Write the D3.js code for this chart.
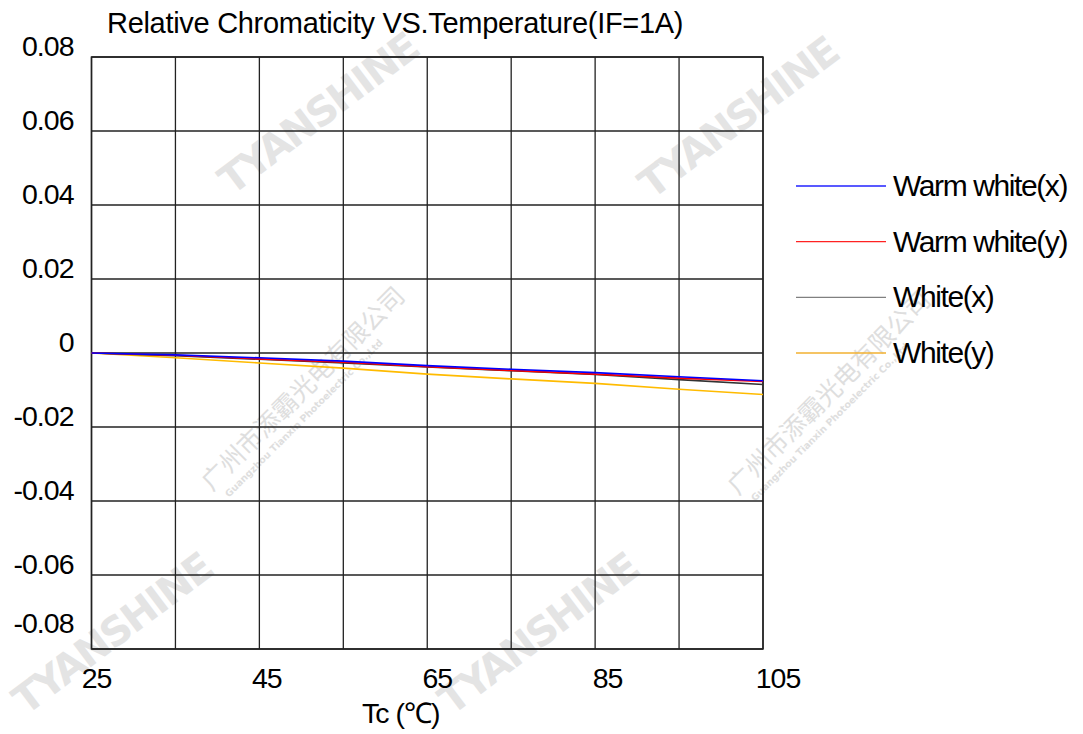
<!DOCTYPE html>
<html>
<head>
<meta charset="utf-8">
<script src="https://cdn.jsdelivr.net/npm/d3@7"></script>
<style>
  html, body { margin: 0; padding: 0; background: #fff; }
  svg { display: block; font-family: "Liberation Sans", Arial, sans-serif; }
</style>
</head>
<body>
<svg id="chart"></svg>
<script>
// chart data
const temps = [25, 35, 45, 55, 65, 75, 85, 95, 105];
const warmWhiteX = [0, -0.0005, -0.0013, -0.0022, -0.0034, -0.0044, -0.0053, -0.0064, -0.0075];
const warmWhiteY = [0, -0.0006, -0.0016, -0.0025, -0.0037, -0.0047, -0.0057, -0.0068, -0.0077];
const whiteX = [0, -0.0007, -0.0017, -0.0027, -0.0038, -0.0048, -0.0058, -0.0072, -0.0085];
const whiteY = [0, -0.0013, -0.0027, -0.0041, -0.0057, -0.0070, -0.0082, -0.0098, -0.0112];
const xTickLabels = [25, 45, 65, 85, 105];
const yTicks = [0.08, 0.06, 0.04, 0.02, 0, -0.02, -0.04, -0.06, -0.08];
const seriesNames = ["Warm white(x)", "Warm white(y)", "White(x)", "White(y)"];
const seriesValues = [warmWhiteX, warmWhiteY, whiteX, whiteY];

const totalW = 1083, totalH = 734;
const margin = { top: 57, right: 320, bottom: 85, left: 91.5 };
const width = totalW - margin.left - margin.right;
const height = totalH - margin.top - margin.bottom;

const colors = ["#0000ff", "#ff0000", "#333333", "#ffbb00"];
const legendColors = ["#2222ff", "#ff2222", "#808080", "#f2b030"];

const root = d3.select("#chart").attr("width", totalW).attr("height", totalH);

// faint watermarks behind everything
const wm = root.append("g").attr("fill", "#e4e4e4").attr("font-weight", "bold");
[[232, 196], [652, 200], [26, 716], [452, 716]].forEach(function (p) {
  wm.append("text")
    .attr("transform", "translate(" + p[0] + "," + p[1] + ") rotate(-37)")
    .attr("font-size", 40)
    .attr("font-family", "'DejaVu Sans', sans-serif")
    .attr("letter-spacing", -2)
    .text("TYANSHINE");
});
[[212, 492], [738, 496]].forEach(function (p) {
  const g = wm.append("g").attr("transform", "translate(" + p[0] + "," + p[1] + ") rotate(-45)");
  g.append("text")
    .attr("font-size", 25)
    .attr("font-weight", "normal")
    .attr("font-family", "'Noto Sans CJK SC', sans-serif")
    .attr("fill", "#dedede")
    .text("广州市添霸光电有限公司");
  g.append("text")
    .attr("y", 16)
    .attr("x", 8)
    .attr("font-size", 9.5)
    .attr("font-family", "'DejaVu Sans', sans-serif")
    .attr("fill", "#dedede")
    .text("Guangzhou Tianxin Photoelectric Co.,Ltd");
});

const svg = root.append("g")
  .attr("transform", "translate(" + margin.left + "," + margin.top + ")");

const x = d3.scaleLinear().domain([25, 105]).range([0, width]);
const y = d3.scaleLinear().domain([-0.08, 0.08]).range([height, 0]);

// grid
svg.append("g")
  .selectAll("line")
  .data(d3.range(25, 106, 10))
  .enter()
  .append("line")
  .attr("x1", (d) => x(d)).attr("x2", (d) => x(d))
  .attr("y1", 0).attr("y2", height)
  .attr("stroke", "#222").attr("stroke-width", 1.3);

svg.append("g")
  .selectAll("line")
  .data(yTicks)
  .enter()
  .append("line")
  .attr("x1", 0).attr("x2", width)
  .attr("y1", (d) => y(d)).attr("y2", (d) => y(d))
  .attr("stroke", "#222").attr("stroke-width", 1.3);

svg.append("rect")
  .attr("width", width).attr("height", height)
  .attr("fill", "none").attr("stroke", "#222").attr("stroke-width", 1.5);

// tick labels
svg.append("g")
  .selectAll("text")
  .data(yTicks)
  .enter()
  .append("text")
  .attr("x", -18)
  .attr("y", (d) => Math.min(y(d) - 1, height - 16))
  .attr("text-anchor", "end")
  .attr("font-size", 28.5)
  .attr("letter-spacing", -1)
  .text((d) => (d === 0 ? "0" : d3.format(".2f")(d).replace("−", "-")));

svg.append("g")
  .selectAll("text")
  .data(xTickLabels)
  .enter()
  .append("text")
  .attr("x", (d) => x(d) + 5 + (d - 25) / 8)
  .attr("y", height + 39)
  .attr("text-anchor", "middle")
  .attr("font-size", 28.5)
  .attr("letter-spacing", -1)
  .text((d) => d);

// title and axis title
root.append("text")
  .attr("x", 107).attr("y", 33)
  .attr("font-size", 29)
  .attr("letter-spacing", -0.3)
  .text("Relative Chromaticity VS.Temperature(IF=1A)");

root.append("text")
  .attr("x", 362).attr("y", 723)
  .attr("font-size", 28.5)
  .attr("letter-spacing", -1)
  .text("Tc (℃)");

// series lines
const line = d3.line()
  .x((d, i) => x(temps[i]))
  .y((d) => y(d));

// draw in reverse so blue ends on top
seriesValues.slice().reverse().forEach(function (vals, k) {
  const i = seriesValues.length - 1 - k;
  svg.append("path")
    .datum(vals)
    .attr("fill", "none")
    .attr("stroke", colors[i])
    .attr("stroke-width", 1.6)
    .attr("d", line);
});

// legend
const legend = root.append("g").attr("transform", "translate(796,186)");
const legendRow = d3.scaleLinear().domain([0, 3]).range([0, 167]);
seriesNames.forEach(function (name, i) {
  const g = legend.append("g").attr("transform", "translate(0," + legendRow(i) + ")");
  g.append("line")
    .attr("x1", 0).attr("x2", 90)
    .attr("stroke", legendColors[i]).attr("stroke-width", 1.3);
  g.append("text")
    .attr("x", 97).attr("y", 10)
    .attr("font-size", 30)
    .attr("letter-spacing", -1.4)
    .text(name);
});
</script>
</body>
</html>
